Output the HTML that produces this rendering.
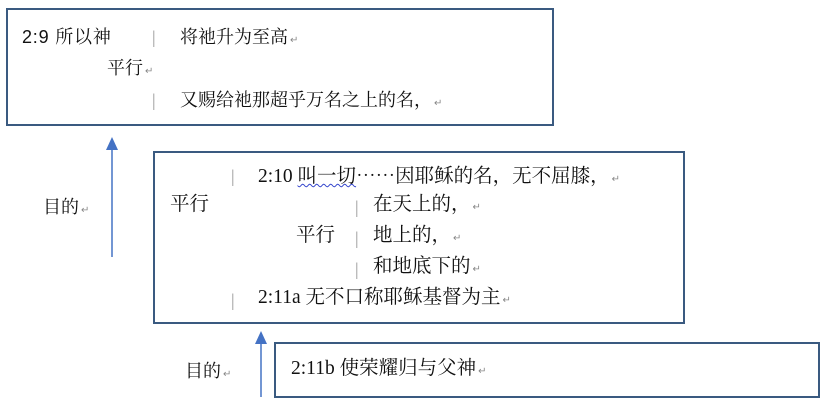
<!DOCTYPE html>
<html><head><meta charset="utf-8"><style>
body{margin:0;background:#fff;}
#c{position:relative;width:828px;height:408px;overflow:hidden;font-family:"Liberation Serif","Noto Serif CJK SC",serif;font-size:18px;color:#111;}
.t{position:absolute;white-space:nowrap;line-height:20px;}
.r{font-size:10px;color:#888;margin-left:2px;}
.b{color:#999;}
.box{position:absolute;border:2px solid #3a5a80;box-sizing:border-box;}
.wv{text-decoration:underline wavy #3344cc;text-decoration-thickness:1px;}
.big{font-size:19.5px;margin-top:-2px;}
.cj{font-family:"Noto Serif CJK SC",serif;}
.cm{display:inline-block;width:1em;}
</style></head><body><div id="c">
<div class="box" style="left:6px;top:8px;width:548px;height:118px"></div>
<div class="box" style="left:153px;top:151px;width:532px;height:173px"></div>
<div class="box" style="left:274px;top:342px;width:546px;height:56px"></div>
<svg width="828" height="408" style="position:absolute;left:0;top:0">
<line x1="112" y1="257" x2="112" y2="148" stroke="#4472c4" stroke-width="1.5"/>
<polygon points="106,150 118,150 112,137" fill="#4472c4"/>
<line x1="261" y1="397" x2="261" y2="342" stroke="#4472c4" stroke-width="1.5"/>
<polygon points="255,344 267,344 261,331" fill="#4472c4"/>
</svg>
<div class="t" style="left:22px;top:27px;font-family:'Liberation Sans','Noto Serif CJK SC',sans-serif;font-size:18px;letter-spacing:0.8px">2:9 所以神</div>
<div class="t b" style="left:152px;top:27px">|</div>
<div class="t" style="left:180px;top:27px">将祂升为至高<span class="r">↵</span></div>
<div class="t" style="left:107px;top:58px">平行<span class="r">↵</span></div>
<div class="t b" style="left:152px;top:90px">|</div>
<div class="t" style="left:180px;top:90px">又赐给祂那超乎万名之上的名<span class="cm">，</span><span class="r">↵</span></div>
<div class="t" style="left:43px;top:197px">目的<span class="r">↵</span></div>
<div class="t b" style="left:231px;top:166px">|</div>
<div class="t big" style="left:258px;top:166px">2:10 <span class="wv">叫一切</span><span class="cj">……</span>因耶稣的名<span class="cm">，</span>无不屈膝<span class="cm">，</span><span class="r">↵</span></div>
<div class="t big" style="left:170px;top:197px">平行</div>
<div class="t b" style="left:355px;top:197px">|</div>
<div class="t big" style="left:373px;top:197px">在天上的<span class="cm">，</span><span class="r">↵</span></div>
<div class="t big" style="left:296px;top:228px">平行</div>
<div class="t b" style="left:355px;top:228px">|</div>
<div class="t big" style="left:373px;top:228px">地上的<span class="cm">，</span><span class="r">↵</span></div>
<div class="t b" style="left:355px;top:259px">|</div>
<div class="t big" style="left:373px;top:259px">和地底下的<span class="r">↵</span></div>
<div class="t b" style="left:231px;top:290px">|</div>
<div class="t big" style="left:258px;top:290px">2:11a 无不口称耶稣基督为主<span class="r">↵</span></div>
<div class="t" style="left:185px;top:361px">目的<span class="r">↵</span></div>
<div class="t big" style="left:291px;top:361px">2:11b 使荣耀归与父神<span class="r">↵</span></div>
</div></body></html>
